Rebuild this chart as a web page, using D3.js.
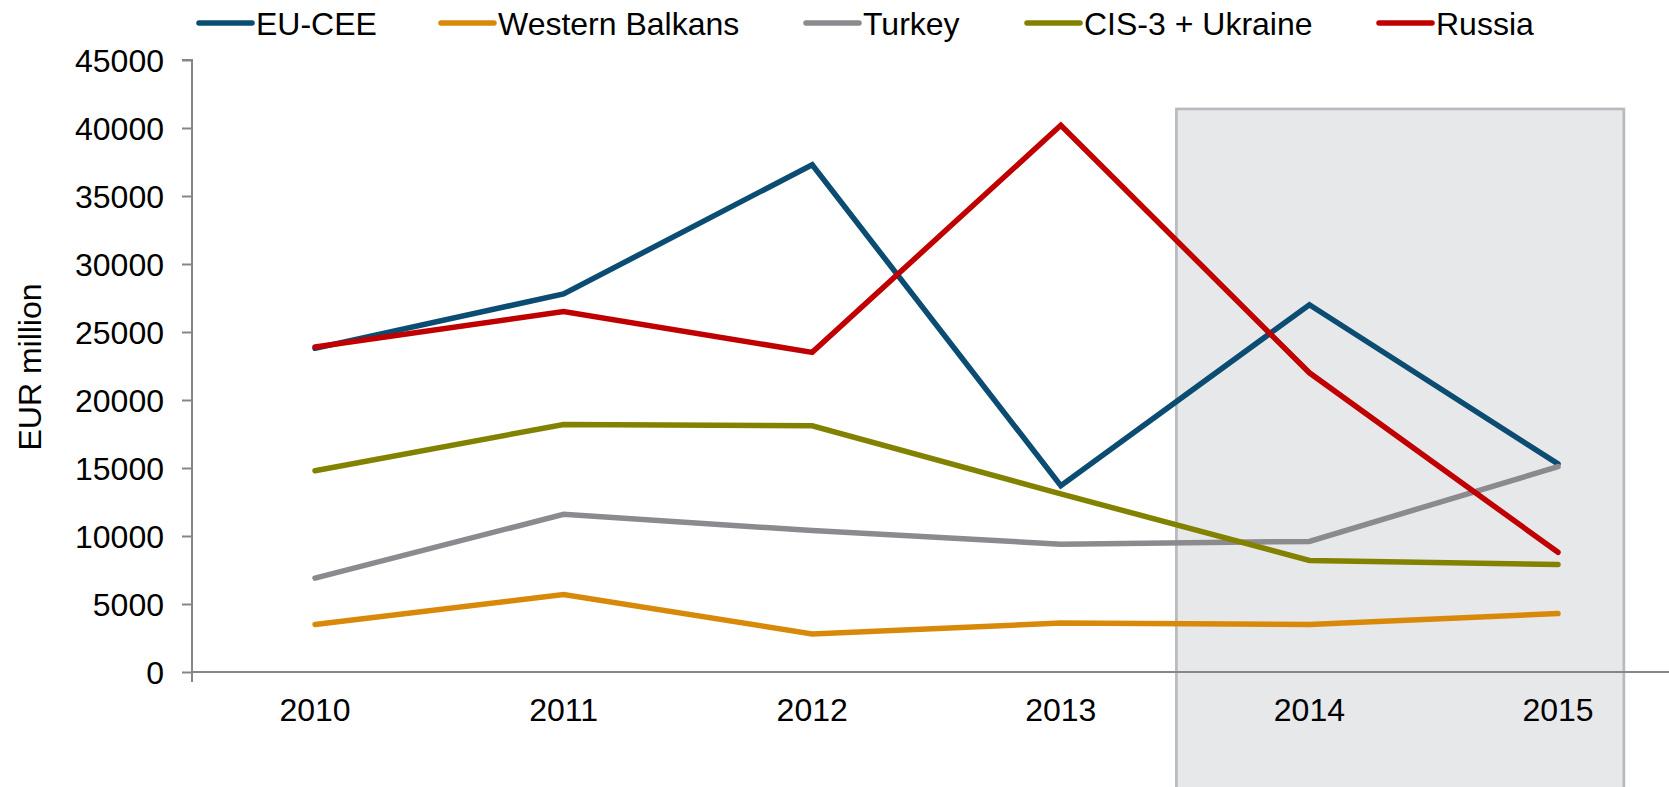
<!DOCTYPE html>
<html>
<head>
<meta charset="utf-8">
<script src="https://cdnjs.cloudflare.com/ajax/libs/d3/7.8.5/d3.min.js"></script>
<style>
  body { margin: 0; background: #fff; }
  text { font-family: "Liberation Sans", Arial, sans-serif; fill: #000; }
</style>
</head>
<body>
<div id="chart"></div>
<script>
var years = [2010, 2011, 2012, 2013, 2014, 2015];
var seriesNames = ["EU-CEE", "Western Balkans", "Turkey", "CIS-3 + Ukraine", "Russia"];
var seriesColors = ["#0b4c72", "#d9890a", "#8b8b8f", "#828200", "#c00000"];
var euCee = [23800, 27800, 37300, 13700, 27000, 15300];
var westernBalkans = [3500, 5700, 2800, 3600, 3500, 4300];
var turkey = [6900, 11600, 10400, 9400, 9600, 15100];
var cis3Ukraine = [14800, 18200, 18100, 13100, 8200, 7900];
var russia = [23900, 26500, 23500, 40200, 22000, 8800];
var yTicks = [0, 5000, 10000, 15000, 20000, 25000, 30000, 35000, 40000, 45000];
// shaded period, in data units
var shadeYears = [2013.465, 2015.265];
var shadeTop = 41400;

var allSeries = [euCee, westernBalkans, turkey, cis3Ukraine, russia];

var width = 1669, height = 787;
var svg = d3.select("#chart").append("svg")
    .attr("width", width)
    .attr("height", height);

var x = d3.scaleLinear().domain([2010, 2015]).range([315, 1558]);
var y = d3.scaleLinear().domain([0, 45000]).range([672, 60]);

// shaded box
svg.append("rect")
    .attr("x", x(shadeYears[0]))
    .attr("y", y(shadeTop))
    .attr("width", x(shadeYears[1]) - x(shadeYears[0]))
    .attr("height", height - y(shadeTop) + 10)
    .attr("fill", "#e7e8ea")
    .attr("stroke", "#b9babd")
    .attr("stroke-width", 2.7);

// y axis
var yAxis = d3.axisLeft(y).tickValues(yTicks).tickSize(10).tickPadding(18).tickFormat(d3.format("d"));
var gy = svg.append("g").attr("transform", "translate(192,0)").call(yAxis);
gy.select(".domain").attr("stroke", "#868686").attr("stroke-width", 2)
    .attr("d", "M-10," + y(45000) + "H0V" + (y(0) + 10));
gy.selectAll(".tick line").attr("stroke", "#868686").attr("stroke-width", 2);
gy.selectAll(".tick text").style("font-size", "32px").attr("dy", "0.36em");

// x axis line + labels
svg.append("line")
    .attr("x1", 192).attr("x2", width)
    .attr("y1", y(0)).attr("y2", y(0))
    .attr("stroke", "#868686").attr("stroke-width", 2);
svg.selectAll(".xlab").data(years).enter().append("text")
    .attr("class", "xlab")
    .attr("x", function(d){ return x(d); })
    .attr("y", 721)
    .attr("text-anchor", "middle")
    .style("font-size", "32px")
    .text(function(d){ return d; });

// axis title
svg.append("text")
    .attr("transform", "translate(41,367) rotate(-90)")
    .attr("text-anchor", "middle")
    .style("font-size", "32px")
    .text("EUR million");

// lines
var line = d3.line()
    .x(function(d, i){ return x(years[i]); })
    .y(function(d){ return y(d); });

svg.selectAll(".series").data(allSeries).enter().append("path")
    .attr("class", "series")
    .attr("d", line)
    .attr("fill", "none")
    .attr("stroke", function(d, i){ return seriesColors[i]; })
    .attr("stroke-width", 5.5)
    .attr("stroke-linecap", "round")
    .attr("stroke-linejoin", "miter");

// legend
var legendX = [198, 440, 805, 1026, 1378];
var lg = svg.selectAll(".leg").data(seriesNames).enter().append("g")
    .attr("class", "leg")
    .attr("transform", function(d, i){ return "translate(" + legendX[i] + ",23)"; });
lg.append("line")
    .attr("x1", 1).attr("x2", 54)
    .attr("y1", 0).attr("y2", 0)
    .attr("stroke", function(d, i){ return seriesColors[i]; })
    .attr("stroke-width", 5.5)
    .attr("stroke-linecap", "round");
lg.append("text")
    .attr("x", 58)
    .attr("y", 0)
    .attr("dy", "0.36em")
    .style("font-size", "32px")
    .text(function(d){ return d; });
</script>
</body>
</html>
